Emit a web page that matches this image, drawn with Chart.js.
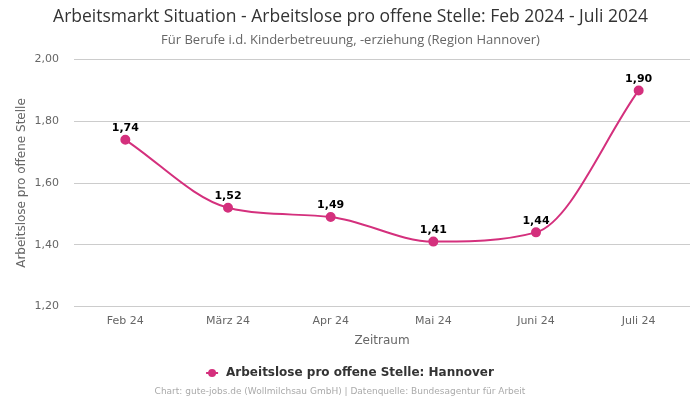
<!DOCTYPE html>
<html>
<head>
<meta charset="utf-8">
<script src="https://cdn.jsdelivr.net/npm/chart.js@4"></script>
<style>
  html, body { margin: 0; padding: 0; background: #fff; }
  #wrap { width: 700px; height: 400px; position: relative; }
</style>
</head>
<body>
<div id="wrap"><canvas id="plot"></canvas></div>
<script>
const labels = ["Feb 24", "März 24", "Apr 24", "Mai 24", "Juni 24", "Juli 24"];
const values = [1.74, 1.52, 1.49, 1.41, 1.44, 1.90];
const yTicks = [1.2, 1.4, 1.6, 1.8, 2.0];
const seriesName = "Arbeitslose pro offene Stelle: Hannover";

const pink = "#d4307d";
const fmt = v => v.toFixed(2).replace(".", ",");

// Werte über den Punkten
const valueLabels = {
    id: "valueLabels",
    afterDatasetsDraw(chart) {
        const ctx = chart.ctx;
        const meta = chart.getDatasetMeta(0);
        ctx.save();
        ctx.font = "bold 11px 'DejaVu Sans'";
        ctx.fillStyle = "#000";
        ctx.textAlign = "center";
        ctx.textBaseline = "bottom";
        meta.data.forEach((pt, i) => {
            ctx.fillText(fmt(values[i]), pt.x, pt.y - 6);
        });
        ctx.restore();
    }
};

// Legende (Linie mit Punkt) und Quellenangabe unten
const footer = {
    id: "footer",
    afterDraw(chart) {
        const ctx = chart.ctx;
        const w = chart.width;
        ctx.save();
        ctx.font = "bold 12px 'DejaVu Sans'";
        const tw = ctx.measureText(seriesName).width;
        const total = 12 + 8 + tw;
        const x0 = (w - total) / 2;
        const y = 373;
        ctx.strokeStyle = pink;
        ctx.lineWidth = 2;
        ctx.beginPath();
        ctx.moveTo(x0, y);
        ctx.lineTo(x0 + 12, y);
        ctx.stroke();
        ctx.fillStyle = pink;
        ctx.beginPath();
        ctx.arc(x0 + 6, y, 4, 0, Math.PI * 2);
        ctx.fill();
        ctx.fillStyle = "#333";
        ctx.textAlign = "left";
        ctx.textBaseline = "middle";
        ctx.fillText(seriesName, x0 + 20, y);

        ctx.font = "9px 'DejaVu Sans'";
        ctx.fillStyle = "#aaa";
        ctx.textAlign = "center";
        ctx.fillText("Chart: gute-jobs.de (Wollmilchsau GmbH) | Datenquelle: Bundesagentur für Arbeit", w / 2 - 10, 392);
        ctx.restore();
    }
};

new Chart(document.getElementById("plot"), {
    type: "line",
    data: {
        labels: labels,
        datasets: [{
            label: seriesName,
            data: values,
            borderColor: pink,
            backgroundColor: pink,
            borderWidth: 2,
            pointRadius: 4,
            pointHoverRadius: 4,
            cubicInterpolationMode: "monotone",
            fill: false
        }]
    },
    options: {
        responsive: true,
        maintainAspectRatio: false,
        animation: false,
        layout: { padding: { left: 11, right: 10, top: 0, bottom: 48 } },
        plugins: {
            title: {
                display: true,
                text: "Arbeitsmarkt Situation - Arbeitslose pro offene Stelle: Feb 2024 - Juli 2024",
                color: "#333",
                font: { family: "'Open Sans'", size: 17.5, weight: "normal" },
                padding: { top: 7, bottom: 4 }
            },
            subtitle: {
                display: true,
                text: "Für Berufe i.d. Kinderbetreuung, -erziehung (Region Hannover)",
                color: "#666",
                font: { family: "'Open Sans'", size: 13 },
                padding: { bottom: 12 }
            },
            legend: { display: false },
            tooltip: { enabled: false }
        },
        scales: {
            x: {
                offset: true,
                grid: { display: false },
                border: { display: false },
                ticks: { color: "#666", padding: 0, font: { family: "'DejaVu Sans'", size: 11 } },
                title: {
                    display: true,
                    text: "Zeitraum",
                    color: "#666",
                    font: { family: "'DejaVu Sans'", size: 12 },
                    padding: { top: 6, bottom: 4 }
                }
            },
            y: {
                min: 1.2,
                max: 2.0,
                afterBuildTicks: axis => { axis.ticks = yTicks.map(v => ({ value: v })); },
                afterFit: axis => { axis.width = 63; },
                grid: { color: "#ccc", drawTicks: false },
                border: { display: false },
                ticks: {
                    color: "#666",
                    padding: 15,
                    font: { family: "'DejaVu Sans'", size: 11 },
                    callback: v => fmt(v)
                },
                title: {
                    display: true,
                    text: "Arbeitslose pro offene Stelle",
                    color: "#666",
                    font: { family: "'DejaVu Sans'", size: 12 },
                    padding: { top: 4, bottom: 0 }
                }
            }
        }
    },
    plugins: [valueLabels, footer]
});
</script>
</body>
</html>
